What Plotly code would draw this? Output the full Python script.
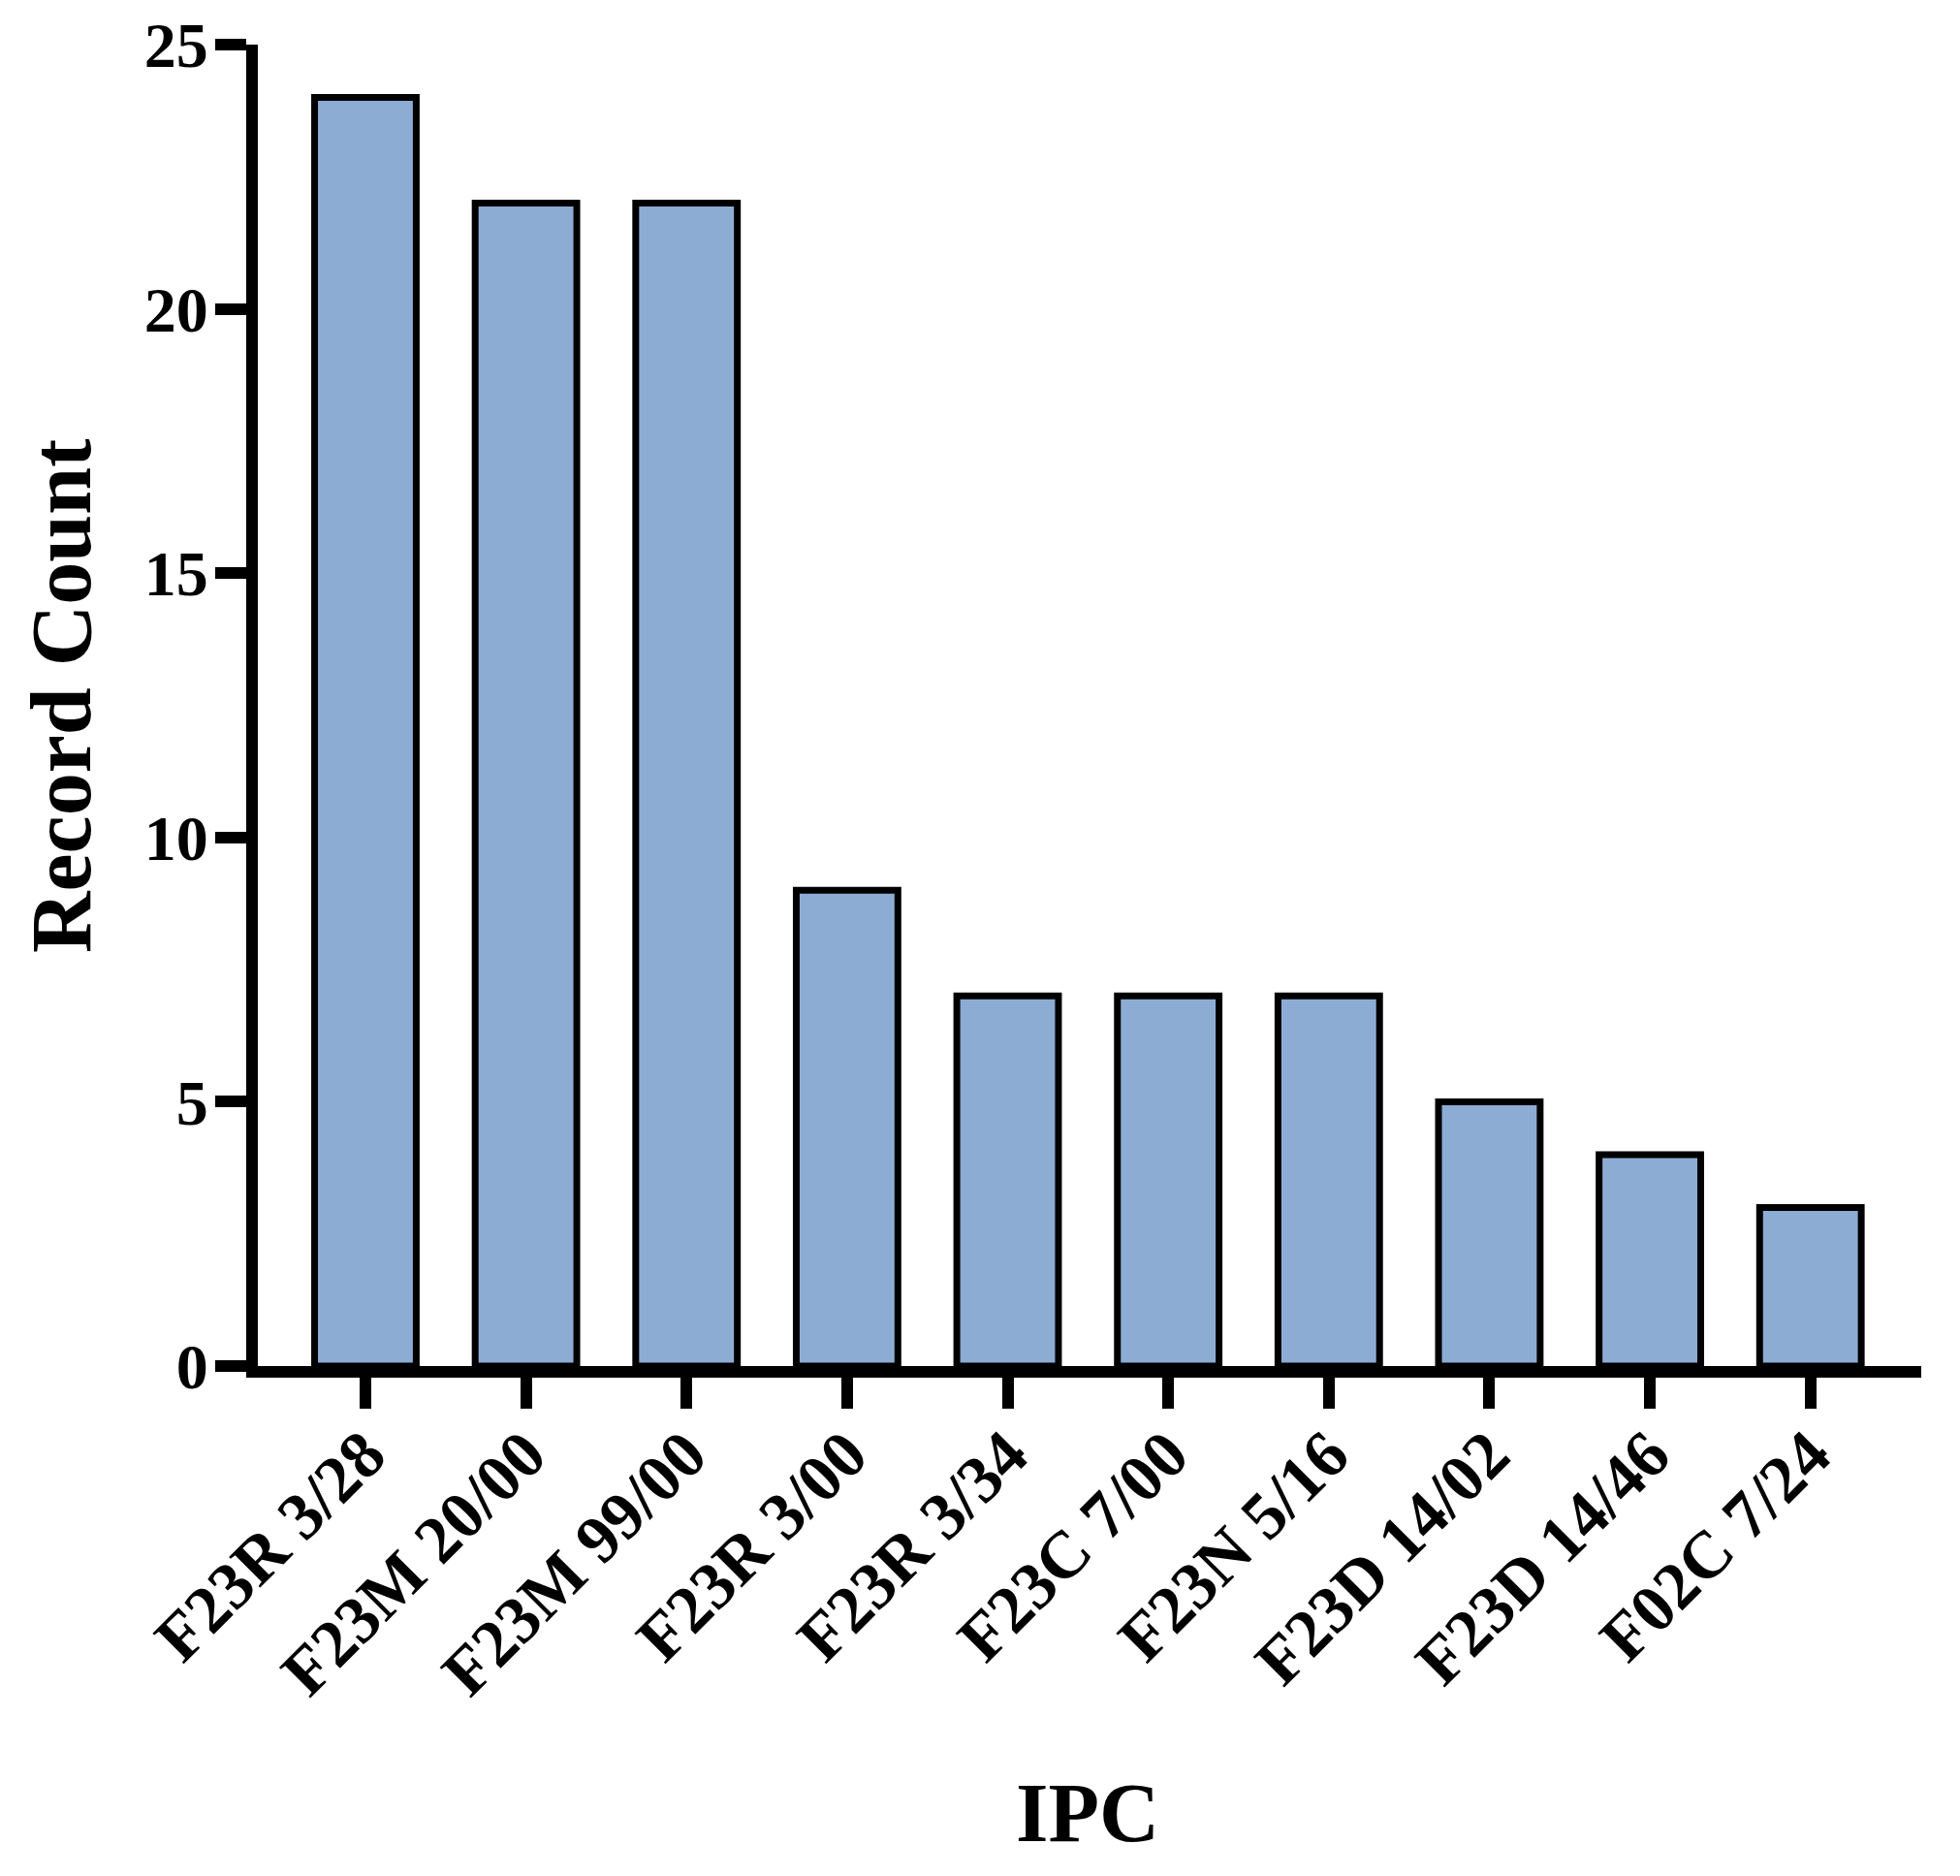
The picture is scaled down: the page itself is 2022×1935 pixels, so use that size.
import plotly.graph_objects as go

categories = ["F23R 3/28", "F23M 20/00", "F23M 99/00", "F23R 3/00", "F23R 3/34",
              "F23C 7/00", "F23N 5/16", "F23D 14/02", "F23D 14/46", "F02C 7/24"]
counts = [24, 22, 22, 9, 7, 7, 7, 5, 4, 3]
y_ticks = [0, 5, 10, 15, 20, 25]

FONT = "Liberation Serif"

fig = go.Figure(go.Bar(
    x=list(range(len(categories))),
    y=counts,
    width=0.633,
    marker=dict(color="rgb(141,172,212)", line=dict(color="black", width=7)),
))

fig.update_layout(
    width=2022, height=1935,
    margin=dict(l=266, r=40, t=46, b=526, autoexpand=False),
    paper_bgcolor="white", plot_bgcolor="white",
    showlegend=False,
    font=dict(family=FONT, color="black"),
    xaxis=dict(
        range=[-0.67, len(categories) - 1 + 0.69],
        tickmode="array",
        tickvals=list(range(len(categories))),
        ticktext=categories,
        tickangle=-45,
        ticks="outside", ticklen=32, tickwidth=12, tickcolor="black",
        showline=True, linecolor="black", linewidth=12,
        showgrid=False, zeroline=False,
        tickfont=dict(family=FONT, size=69, color="black", weight="bold"),
        ticklabelstandoff=-21,
        automargin=False,
    ),
    yaxis=dict(
        range=[0, 25],
        tickmode="array",
        tickvals=y_ticks,
        ticktext=[str(v) for v in y_ticks],
        ticks="outside", ticklen=32, tickwidth=12, tickcolor="black",
        showline=True, linecolor="black", linewidth=12,
        showgrid=False, zeroline=False,
        tickfont=dict(family=FONT, size=66, color="black", weight="bold"),
        ticklabelstandoff=-6,
        automargin=False,
    ),
    annotations=[
        dict(text="<b>Record Count</b>", xref="paper", yref="paper",
             x=-0.1177, y=0.507, xanchor="center", yanchor="middle",
             textangle=-90, showarrow=False,
             font=dict(family=FONT, size=88, color="black")),
        dict(text="<b>IPC</b>", xref="paper", yref="paper",
             x=0.4988, y=-0.338, xanchor="center", yanchor="middle",
             showarrow=False,
             font=dict(family=FONT, size=86, color="black")),
    ],
)

fig.write_html("out.html", config={"displayModeBar": False},
               post_script="document.body.style.margin='0px';")
